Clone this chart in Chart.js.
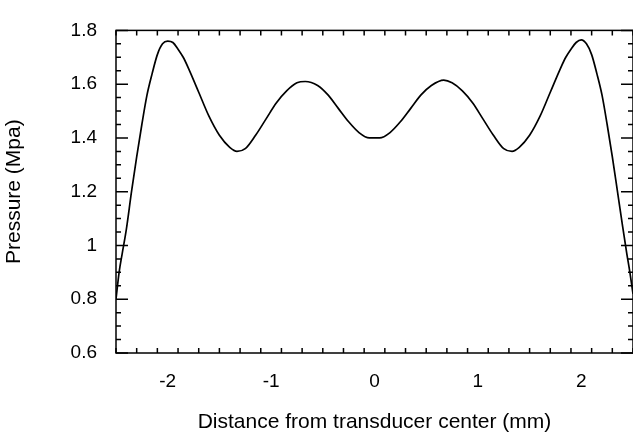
<!DOCTYPE html>
<html>
<head>
<meta charset="utf-8">
<script src="https://cdn.jsdelivr.net/npm/chart.js@4"></script>
<style>
  html, body { margin: 0; padding: 0; background: #fff; }
  #wrap { width: 633px; height: 435px; }
</style>
</head>
<body>
<div id="wrap"><canvas id="chart"></canvas></div>
<script>
// distance from transducer center (mm) and pressure (MPa)
const distance = [
  -2.5, -2.47, -2.44, -2.4, -2.35, -2.3, -2.25, -2.2, -2.15, -2.1, -2.05, -2.0,
  -1.95, -1.9, -1.85, -1.8, -1.7, -1.6, -1.5, -1.4, -1.33, -1.25, -1.15, -1.05,
  -0.95, -0.85, -0.75, -0.67, -0.55, -0.45, -0.35, -0.25, -0.15, -0.05, 0,
  0.05, 0.15, 0.25, 0.35, 0.45, 0.55, 0.67, 0.75, 0.85, 0.95, 1.05, 1.15,
  1.25, 1.33, 1.4, 1.5, 1.6, 1.7, 1.8, 1.85, 1.9, 1.95, 2.0, 2.05, 2.1,
  2.15, 2.2, 2.25, 2.3, 2.35, 2.4, 2.44, 2.47, 2.5
];
const pressure = [
  0.80, 0.90, 0.97, 1.06, 1.20, 1.33, 1.45, 1.56, 1.64, 1.71, 1.75, 1.76,
  1.755, 1.73, 1.70, 1.66, 1.57, 1.48, 1.41, 1.365, 1.35, 1.36, 1.41, 1.47,
  1.53, 1.575, 1.605, 1.61, 1.595, 1.56, 1.51, 1.46, 1.42, 1.40, 1.40,
  1.40, 1.42, 1.46, 1.51, 1.56, 1.595, 1.615, 1.605, 1.575, 1.53, 1.47, 1.41,
  1.36, 1.35, 1.365, 1.41, 1.48, 1.57, 1.66, 1.70, 1.73, 1.755, 1.765, 1.75, 1.71,
  1.64, 1.56, 1.45, 1.33, 1.20, 1.07, 0.97, 0.90, 0.82
];

const xTicks = [-2, -1, 0, 1, 2];
const xTickLabels = ['-2', '-1', '0', '1', '2'];
const yTicks = [0.6, 0.8, 1.0, 1.2, 1.4, 1.6, 1.8];
const yTickLabels = ['0.6', '0.8', '1', '1.2', '1.4', '1.6', '1.8'];

const FONT = '"Liberation Sans", Arial, Helvetica, sans-serif';

// box frame with inward major/minor ticks on all four sides
const framePlugin = {
  id: 'frame',
  afterDraw(chart) {
    const { ctx, chartArea: a, scales: { x, y } } = chart;
    ctx.save();
    ctx.strokeStyle = '#000';
    ctx.lineWidth = 1.5;
    ctx.strokeRect(a.left, a.top, a.right - a.left, a.bottom - a.top);

    const major = 12, minor = 5;
    ctx.beginPath();
    for (let i = 0; i <= 25; i++) {
      const v = -2.5 + i * 0.2;
      const px = x.getPixelForValue(v);
      const len = Math.abs(v - Math.round(v)) < 1e-6 ? major : minor;
      ctx.moveTo(px, a.bottom); ctx.lineTo(px, a.bottom - len);
      ctx.moveTo(px, a.top); ctx.lineTo(px, a.top + len);
    }
    for (let i = 0; i <= 24; i++) {
      const v = 0.6 + i * 0.05;
      const py = y.getPixelForValue(v);
      const len = i % 4 === 0 ? major : minor;
      ctx.moveTo(a.left, py); ctx.lineTo(a.left + len, py);
      ctx.moveTo(a.right, py); ctx.lineTo(a.right - len, py);
    }
    ctx.stroke();
    ctx.restore();
  }
};

new Chart(document.getElementById('chart'), {
  type: 'line',
  data: {
    datasets: [{
      data: distance.map((d, i) => ({ x: d, y: pressure[i] })),
      borderColor: '#000',
      borderWidth: 1.7,
      pointRadius: 0,
      cubicInterpolationMode: 'monotone',
      fill: false
    }]
  },
  options: {
    responsive: true,
    maintainAspectRatio: false,
    animation: false,
    layout: { padding: { top: 11, right: 0, bottom: 0, left: 0 } },
    plugins: { legend: { display: false }, tooltip: { enabled: false } },
    scales: {
      x: {
        type: 'linear',
        min: -2.5,
        max: 2.5,
        afterFit(scale) { scale.height = 82; },
        afterBuildTicks(scale) { scale.ticks = xTicks.map(v => ({ value: v })); },
        grid: { display: false, drawTicks: false },
        border: { display: false },
        ticks: {
          padding: 17,
          color: '#000',
          font: { family: FONT, size: 19 },
          callback: (v) => xTickLabels[xTicks.indexOf(v)]
        },
        title: {
          display: true,
          text: 'Distance from transducer center (mm)',
          color: '#000',
          font: { family: FONT, size: 21 },
          padding: { top: 0, bottom: 0 }
        }
      },
      y: {
        type: 'linear',
        min: 0.6,
        max: 1.8,
        afterFit(scale) { scale.width = 116; },
        afterBuildTicks(scale) { scale.ticks = yTicks.map(v => ({ value: v })); },
        grid: { display: false, drawTicks: false },
        border: { display: false },
        ticks: {
          padding: 19,
          color: '#000',
          font: { family: FONT, size: 19 },
          callback: (v) => yTickLabels[yTicks.findIndex(t => Math.abs(t - v) < 1e-9)]
        },
        title: {
          display: true,
          text: 'Pressure (Mpa)',
          color: '#000',
          font: { family: FONT, size: 21 },
          padding: { top: 2, bottom: 0 }
        }
      }
    }
  },
  plugins: [framePlugin]
});
</script>
</body>
</html>
